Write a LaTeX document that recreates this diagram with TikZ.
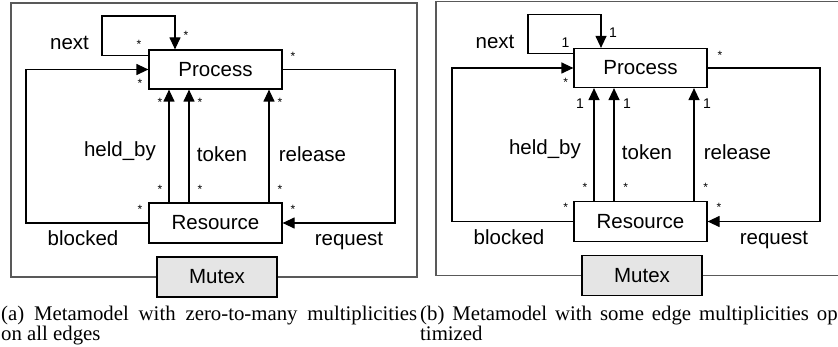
\documentclass[tikz,border=0pt]{standalone}
\usepackage{fontspec}
\setmainfont{Liberation Serif}
\newfontfamily\diagfont{Liberation Sans}
\usetikzlibrary{arrows.meta}

\tikzset{
  lbl/.style={font=\diagfont\fontsize{20.5}{24}\selectfont, inner sep=0pt},
  cls/.style={draw, line width=1.2pt, fill=white, minimum width=133pt,
              minimum height=39pt, inner sep=0pt,
              font=\diagfont\fontsize{20.5}{24}\selectfont},
  mux/.style={cls, fill=black!10, minimum width=120pt, minimum height=40pt},
  mult/.style={font=\diagfont\fontsize{12}{14}\selectfont, inner sep=0pt},
  multone/.style={font=\diagfont\fontsize{14}{16}\selectfont, inner sep=0pt},
  conn/.style={line width=1.2pt, -{Triangle[width=11pt,length=12pt]}},
  panelframe/.style={draw=black!65, line width=1.4pt},
  captext/.style={font=\fontsize{20.8}{22}\selectfont, inner sep=0pt, anchor=base west},
}

\begin{document}
\begin{tikzpicture}[x=1pt, y=-1pt]
\useasboundingbox (0,0) rectangle (838,347);
\clip (0,0) rectangle (838,347);

% ---------- (a) all ends zero-to-many ----------
\begin{scope}[name prefix=a-]
  \draw[panelframe] (11,3) rectangle (417,277);
  \node[cls] (P) at (215.5,69.5) {Process};
  \node[cls, minimum height=40pt] (R) at (215.5,223) {Resource};
  \node[mux] (M) at (217,277) {Mutex};

  \coordinate (nl) at (102,16);
  \coordinate (bl) at (26,150);
  \coordinate (rq) at (395,150);
  \draw[conn] ([yshift=-6pt]P.north west) -| (nl) -| ([xshift=-40.5pt]P.north);
  \draw[conn] (R.west) -| (bl) |- (P.west);
  \draw[conn] (P.east) -| (rq) |- (R.east);
  \foreach \dx in {-46.5,-26.5,53.5}
    \draw[conn] ([xshift=\dx pt]R.north) -- ([xshift=\dx pt]P.south);

  \node[lbl, anchor=base] (next) at (69.5,50) {next};
  \node[lbl, anchor=base] (held) at (120,156.5) {held\_by};
  \node[lbl, anchor=base] (tok) at (222,161.5) {token};
  \node[lbl, anchor=base] (rel) at (312.5,161.5) {release};
  \node[lbl, anchor=base] (blk) at (83,246) {blocked};
  \node[lbl, anchor=base] (req) at (349,246) {request};

  \node[mult] (m1) at (139,44.6) {*};
  \node[mult] (m2) at (186,35.6) {*};
  \node[mult] (m3) at (140,83.6) {*};
  \node[mult] (m4) at (140,209.6) {*};
  \node[mult] (m5) at (293,56.6) {*};
  \node[mult] (m6) at (293,209.6) {*};
  \node[mult] (m7) at (160,102.6) {*};
  \node[mult] (m8) at (200,102.6) {*};
  \node[mult] (m9) at (280,102.6) {*};
  \node[mult] (m10) at (160,189.6) {*};
  \node[mult] (m11) at (200,189.6) {*};
  \node[mult] (m12) at (280,189.6) {*};
\end{scope}

% ---------- (b) some ends reduced to one ----------
\begin{scope}[name prefix=b-, shift={(425,-1.5)}]
  \draw[panelframe] (11,3) rectangle (417,277);
  \node[cls] (P) at (215.5,69.5) {Process};
  \node[cls, minimum height=40pt] (R) at (215.5,223) {Resource};
  \node[mux] (M) at (217,277) {Mutex};

  \coordinate (nl) at (103,16);
  \coordinate (bl) at (27,150);
  \coordinate (rq) at (395,150);
  \draw[conn] ([yshift=-6pt]P.north west) -| (nl) -| ([xshift=-39.5pt]P.north);
  \draw[conn] (R.west) -| (bl) |- (P.west);
  \draw[conn] (P.east) -| (rq) |- (R.east);
  \foreach \dx in {-46.5,-26.5,53.5}
    \draw[conn] ([xshift=\dx pt]R.north) -- ([xshift=\dx pt]P.south);

  \node[lbl, anchor=base] (next) at (70,50) {next};
  \node[lbl, anchor=base] (held) at (120,156.5) {held\_by};
  \node[lbl, anchor=base] (tok) at (222,161.5) {token};
  \node[lbl, anchor=base] (rel) at (312.5,161.5) {release};
  \node[lbl, anchor=base] (blk) at (84,246) {blocked};
  \node[lbl, anchor=base] (req) at (349,246) {request};

  \node[multone] (m1) at (140.5,44) {1};
  \node[multone] (m2) at (188,34.5) {1};
  \node[mult] (m3) at (140.7,84.1) {*};
  \node[mult] (m4) at (140.7,209.1) {*};
  \node[mult] (m5) at (295,57.1) {*};
  \node[mult] (m6) at (294,209.1) {*};
  \node[multone] (m7) at (155,105.5) {1};
  \node[multone] (m8) at (202,105.5) {1};
  \node[multone] (m9) at (282,105.5) {1};
  \node[mult] (m10) at (160,189.1) {*};
  \node[mult] (m11) at (200.7,189.1) {*};
  \node[mult] (m12) at (280.7,189.1) {*};
\end{scope}

% ---------- sub-captions ----------
\node[captext] (capa1) at (1,320) {\makebox[416pt][s]{(a)\ Metamodel with zero-to-many multiplicities}};
\node[captext] (capa2) at (1,341) {on all edges};
\node[captext] (capb1) at (420,320) {\makebox[417.5pt][s]{(b)\ Metamodel with some edge multiplicities op}};
\node[captext] (capb2) at (420,341) {timized};
\end{tikzpicture}
\end{document}
